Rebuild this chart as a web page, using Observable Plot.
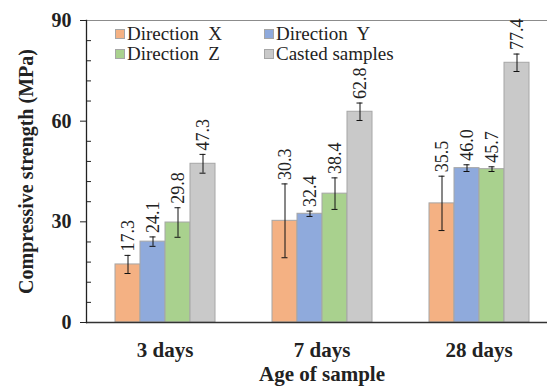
<!DOCTYPE html>
<html><head><meta charset="utf-8">
<script src="https://cdn.jsdelivr.net/npm/d3@7"></script>
<script src="https://cdn.jsdelivr.net/npm/@observablehq/plot@0.6"></script>
<style>
body{margin:0;background:#fff;overflow:hidden}
#wrap{position:relative;width:547px;height:386px;overflow:hidden}
.leg{position:absolute;font-family:'Liberation Serif','Times New Roman',serif;font-size:19px;color:#222;white-space:pre;line-height:20px}
.sw{display:inline-block;width:8px;height:8px;border:1px solid #a6a6a6;margin-right:2px;vertical-align:1px}
</style></head><body><div id="wrap"></div>
<script>
const groups = ["3 days", "7 days", "28 days"];
const series = ["Direction  X", "Direction  Y", "Direction  Z", "Casted samples"];
const colors = ["#F4B183", "#8FAADC", "#A9D18E", "#C9C9C9"];
const valuesX = [17.3, 30.3, 35.5];
const valuesY = [24.1, 32.4, 46.0];
const valuesZ = [29.8, 38.4, 45.7];
const valuesCast = [47.3, 62.8, 77.4];
const errX = [2.7, 11.0, 8.1];
const errY = [1.4, 0.8, 1.0];
const errZ = [4.4, 4.7, 0.7];
const errCast = [2.8, 2.6, 2.6];
const yTicks = [0, 30, 60, 90];
const yMinor = [6, 12, 18, 24, 36, 42, 48, 54, 66, 72, 78, 84];

const allValues = [valuesX, valuesY, valuesZ, valuesCast];
const allErr = [errX, errY, errZ, errCast];
const rows = [];
groups.forEach((g, gi) => series.forEach((s, si) => rows.push({group: g, series: s, value: allValues[si][gi], err: allErr[si][gi]})));

const font = "'Liberation Serif', 'Times New Roman', serif";
const plot = Plot.plot({
  width: 547, height: 386,
  marginTop: 20, marginLeft: 85, marginRight: 0, marginBottom: 64,
  style: {fontFamily: font, background: "#fff", color: "#222", overflow: "hidden"},
  fx: {domain: groups, range: [85, 557.5], paddingInner: 0, paddingOuter: 0, axis: null},
  x: {domain: series, paddingInner: 0, paddingOuter: 1.088, axis: null},
  y: {domain: [0, 90], axis: null},
  color: {domain: series, range: colors},
  marks: [
    Plot.ruleY([90], {stroke: "#8c8c8c", strokeWidth: 1.2}),
    Plot.barY(rows, {fx: "group", x: "series", y: "value", fill: "series", stroke: "#a6a6a6", strokeWidth: 1}),
    Plot.ruleX(rows, {fx: "group", x: "series", y1: d => d.value - d.err, y2: d => d.value + d.err, stroke: "#111", strokeWidth: 1}),
    Plot.tickY(rows, {fx: "group", x: "series", y: d => d.value + d.err, insetLeft: 9.5, insetRight: 9.5, stroke: "#111", strokeWidth: 1}),
    Plot.tickY(rows, {fx: "group", x: "series", y: d => d.value - d.err, insetLeft: 9.5, insetRight: 9.5, stroke: "#111", strokeWidth: 1}),
    Plot.text(rows, {fx: "group", x: "series", y: d => d.value + d.err, text: d => d.value.toFixed(1), rotate: -90, textAnchor: "start", dy: -4, fontSize: 18, fontFamily: font, fill: "#222"}),
    Plot.ruleY([0], {stroke: "#333", strokeWidth: 1.5}),
    Plot.frame({anchor: "left", facetAnchor: "left", stroke: "#222", strokeWidth: 1.3}),
    Plot.axisY({ticks: yTicks, tickSize: 6, tickPadding: 9, fontSize: 20, fontWeight: "bold", fontFamily: font, label: "Compressive strength (MPa)", labelAnchor: "center", labelArrow: "none", labelOffset: 68, stroke: "#222"}),
    Plot.axisY({ticks: yMinor, tickSize: 5, dx: 5, text: null, label: null, stroke: "#222"}),
    Plot.axisFx({anchor: "bottom", tickSize: 0, tickPadding: 20, fontSize: 21, fontWeight: "bold", fontFamily: font, label: "Age of sample", labelAnchor: "center", labelArrow: "none", labelOffset: 58})
  ]
});
const wrap = document.getElementById("wrap");
wrap.appendChild(plot);
const legPos = [[115, 24], [264, 24], [115, 44], [264, 44]];
series.forEach((s, i) => {
  const d = document.createElement("div");
  d.className = "leg";
  d.style.left = legPos[i][0] + "px";
  d.style.top = legPos[i][1] + "px";
  const sw = document.createElement("span");
  sw.className = "sw";
  sw.style.background = colors[i];
  d.appendChild(sw);
  d.appendChild(document.createTextNode(s));
  wrap.appendChild(d);
});
</script></body></html>
